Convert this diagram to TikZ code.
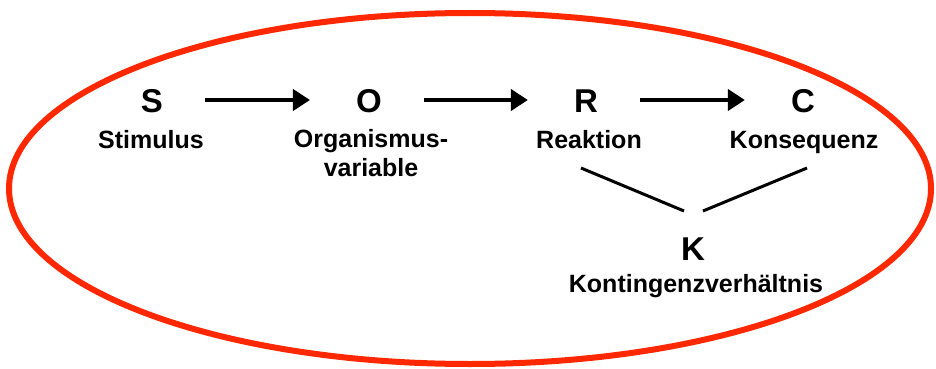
\documentclass[tikz,border=0pt]{standalone}
\usepackage{fontspec}
\setmainfont{Liberation Sans}
\usetikzlibrary{arrows.meta}
\definecolor{ellred}{RGB}{255,40,0}
\tikzset{
  bigletter/.style={font=\fontsize{33}{36}\selectfont\bfseries, inner sep=0pt, anchor=base, text height=24pt, text depth=0pt},
  lbl/.style={font=\fontsize{25}{29}\selectfont\bfseries, inner sep=0pt, anchor=base, align=center},
  arr/.style={line width=4pt, -{Triangle[length=17pt,width=21pt]}},
  link/.style={line width=3pt}
}
\begin{document}
\begin{tikzpicture}[x=1pt,y=-1pt]
\useasboundingbox (0,0) rectangle (936,369);
\draw[ellred, line width=6pt] (470,188.5) ellipse [x radius=461pt, y radius=175.5pt];
\node[bigletter] (S) at (152,112) {S};
\node[bigletter] (O) at (369,112) {O};
\node[bigletter] (R) at (586,112) {R};
\node[bigletter] (C) at (803,112) {C};
\node[bigletter] (K) at (693,260) {K};
\node[lbl] (stim) at (151,148) {Stimulus};
\node[lbl] (org) at (371,176) {Organismus-\\variable};
\node[lbl] (reak) at (589,148) {Reaktion};
\node[lbl] (kons) at (804,148) {Konsequenz};
\node[lbl] (kont) at (696,292) {Kontingenzverhältnis};
\draw[arr, shorten <=42pt, shorten >=46pt] (S) -- (O);
\draw[arr, shorten <=42pt, shorten >=46pt] (O) -- (R);
\draw[arr, shorten <=42pt, shorten >=46pt] (R) -- (C);
\coordinate (rl) at (581,168);
\coordinate (kl) at (684,211);
\coordinate (cr) at (807,168);
\coordinate (kr) at (703,211);
\draw[link] (rl) -- (kl);
\draw[link] (cr) -- (kr);
\end{tikzpicture}
\end{document}
